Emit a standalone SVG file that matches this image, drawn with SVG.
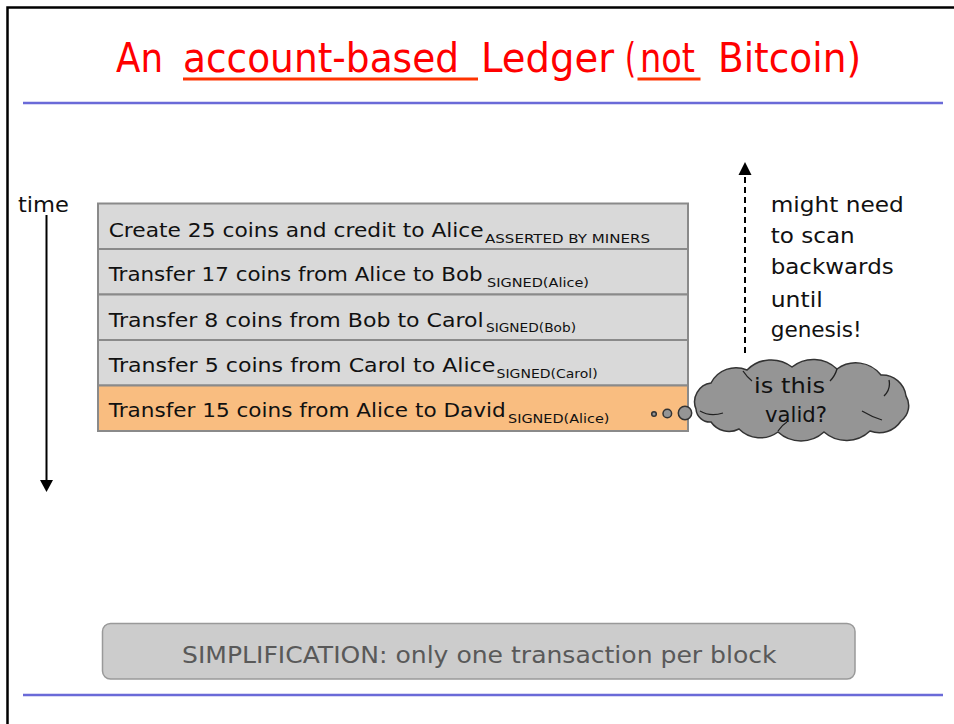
<svg xmlns="http://www.w3.org/2000/svg" width="954" height="724" viewBox="0 0 954 724">
<defs>
<style>
.t{font-family:"DejaVu Sans","Liberation Sans",sans-serif;fill:#111}
.ttl{font-family:"DejaVu Sans","Liberation Sans",sans-serif;fill:#ff0000;font-size:40px}
.m{font-size:20px}
.s{font-size:13px}
.row{stroke:#8a8a8a;stroke-width:2}
.g{fill:#d9d9d9}
.o{fill:#f9bd80}
.rule{stroke:#6a6ad8;stroke-width:2.5}
.bub{fill:#959595;stroke:#333;stroke-width:1.5}
</style>
</defs>
<rect width="954" height="724" fill="#fff"/>
<path d="M7.5,724 V7.5 H954" fill="none" stroke="#000" stroke-width="2.5"/>
<g id="title">
<text class="ttl" x="116" y="72" textLength="47" lengthAdjust="spacingAndGlyphs">An</text>
<text class="ttl" x="183" y="72" textLength="276" lengthAdjust="spacingAndGlyphs">account-based</text>
<text class="ttl" x="481" y="72" textLength="133" lengthAdjust="spacingAndGlyphs">Ledger</text>
<text class="ttl" x="625" y="72" textLength="11" lengthAdjust="spacingAndGlyphs">(</text>
<text class="ttl" x="640" y="72" textLength="55" lengthAdjust="spacingAndGlyphs">not</text>
<text class="ttl" x="718" y="72" textLength="143" lengthAdjust="spacingAndGlyphs">Bitcoin)</text>
<rect x="183" y="77.5" width="295" height="3" fill="#ff3300"/>
<rect x="637.5" y="77.5" width="63" height="3" fill="#ff3300"/>
</g>
<line class="rule" x1="23" y1="103" x2="943" y2="103"/>
<line class="rule" x1="23" y1="695" x2="943" y2="695"/>
<g id="row1">
<rect class="row g" x="98" y="203.5" width="590" height="45.5"/>
<text class="t m" x="108.7" y="236.5" textLength="375" lengthAdjust="spacingAndGlyphs">Create 25 coins and credit to Alice</text>
<text class="t s" x="485" y="242.7" textLength="165" lengthAdjust="spacingAndGlyphs">ASSERTED BY MINERS</text>
</g>
<g id="row2">
<rect class="row g" x="98" y="249" width="590" height="45.5"/>
<text class="t m" x="108.7" y="281" textLength="374" lengthAdjust="spacingAndGlyphs">Transfer 17 coins from Alice to Bob</text>
<text class="t s" x="487" y="287" textLength="102" lengthAdjust="spacingAndGlyphs">SIGNED(Alice)</text>
</g>
<g id="row3">
<rect class="row g" x="98" y="294.5" width="590" height="45.5"/>
<text class="t m" x="108.7" y="326.5" textLength="375" lengthAdjust="spacingAndGlyphs">Transfer 8 coins from Bob to Carol</text>
<text class="t s" x="486" y="332.3" textLength="90" lengthAdjust="spacingAndGlyphs">SIGNED(Bob)</text>
</g>
<g id="row4">
<rect class="row g" x="98" y="340" width="590" height="45.5"/>
<text class="t m" x="108.7" y="372" textLength="386.7" lengthAdjust="spacingAndGlyphs">Transfer 5 coins from Carol to Alice</text>
<text class="t s" x="496.6" y="377.7" textLength="101" lengthAdjust="spacingAndGlyphs">SIGNED(Carol)</text>
</g>
<g id="row5">
<rect class="row o" x="98" y="385.5" width="590" height="45.5"/>
<text class="t m" x="108.7" y="417" textLength="397" lengthAdjust="spacingAndGlyphs">Transfer 15 coins from Alice to David</text>
<text class="t s" x="508" y="422.7" textLength="101.5" lengthAdjust="spacingAndGlyphs">SIGNED(Alice)</text>
</g>
<g id="time">
<text class="t" x="18" y="212" font-size="22" textLength="51" lengthAdjust="spacingAndGlyphs">time</text>
</g>
<g id="note">
<text class="t" font-size="22" x="770.7" y="211.7" textLength="133" lengthAdjust="spacingAndGlyphs">might need</text>
<text class="t" font-size="22" x="770.7" y="243.3" textLength="84" lengthAdjust="spacingAndGlyphs">to scan</text>
<text class="t" font-size="22" x="770.7" y="274.3" textLength="123" lengthAdjust="spacingAndGlyphs">backwards</text>
<text class="t" font-size="22" x="770.7" y="306.7" textLength="52" lengthAdjust="spacingAndGlyphs">until</text>
<text class="t" font-size="22" x="770.7" y="337.3" textLength="91" lengthAdjust="spacingAndGlyphs">genesis!</text>
</g>
<g id="cloud">
<path class="bub" d="M696,409 A19,19 0 0 1 711,383 A28,28 0 0 1 747,370 A34,34 0 0 1 792,367 A34,34 0 0 1 837,369 A32,32 0 0 1 881,375 A24,24 0 0 1 906,396 A19,19 0 0 1 901,421 A26,26 0 0 1 870,431 A34,34 0 0 1 824,432 A34,34 0 0 1 778,432 A30,30 0 0 1 739,429 A22,22 0 0 1 711,422 A14,14 0 0 1 696,409 Z"/>
<path d="M700,411 Q710,417 723,413 M743,371 Q747,377 752,381 M837,369 Q835,376 830,381 M889,380 Q891,389 884,396 M882,420 Q872,417 862,411 M778,431 Q782,425 787,422" fill="none" stroke="#222" stroke-width="1.3"/>
<text class="t" font-size="22" x="754" y="392.7" textLength="71" lengthAdjust="spacingAndGlyphs">is this</text>
<text class="t" font-size="22" x="765" y="421.7" textLength="62" lengthAdjust="spacingAndGlyphs">valid?</text>
<circle class="bub" cx="654" cy="414" r="2.3"/>
<circle class="bub" cx="667.3" cy="413.5" r="4.3"/>
<circle class="bub" cx="685" cy="413" r="6.7"/>
</g>
<g id="simplification">
<rect x="102.5" y="623.5" width="752.5" height="55.5" rx="8" fill="#cccccc" stroke="#999" stroke-width="1.5"/>
<text class="t" x="182" y="663" font-size="23" style="fill:#595959" textLength="594.6" lengthAdjust="spacingAndGlyphs">SIMPLIFICATION: only one transaction per block</text>
</g>
<g id="connectors">
<line x1="46.5" y1="215" x2="46.5" y2="482" stroke="#000" stroke-width="2"/>
<polygon points="40,480 53,480 46.5,492" fill="#000"/>
<line x1="745" y1="353" x2="745" y2="174" stroke="#000" stroke-width="2" stroke-dasharray="6 4"/>
<polygon points="738.5,175 751.5,175 745,162" fill="#000"/>
</g>
</svg>
